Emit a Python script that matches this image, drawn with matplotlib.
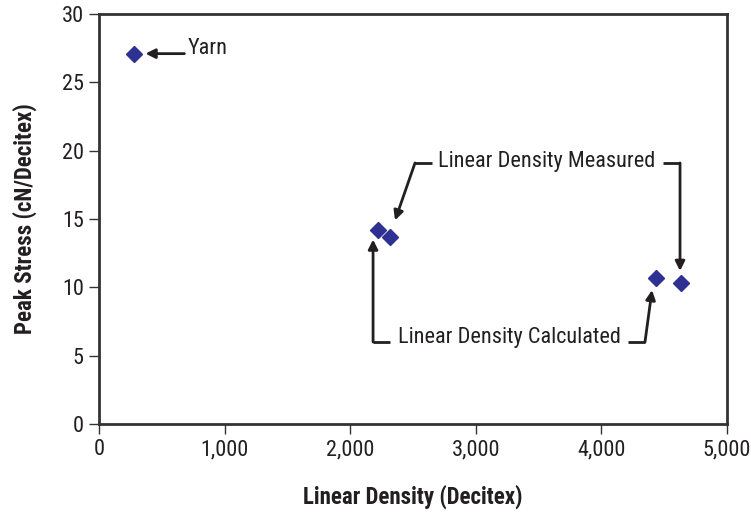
import matplotlib.pyplot as plt
from matplotlib.ticker import FuncFormatter

# Data
linear_density = [280, 2225, 2315, 4435, 4630]
peak_stress = [27.1, 14.2, 13.7, 10.7, 10.3]

x_ticks = [0, 1000, 2000, 3000, 4000, 5000]
y_ticks = [0, 5, 10, 15, 20, 25, 30]

plt.rcParams['font.family'] = ['Roboto Condensed', 'DejaVu Sans']
plt.rcParams['font.size'] = 16

navy = '#2e3192'
ink = '#231f20'

fig = plt.figure(figsize=(7.51, 5.14), dpi=100)
ax = fig.add_axes([99 / 751, 1 - 424 / 514, 628 / 751, 410 / 514])

ax.plot(linear_density, peak_stress, linestyle='none', marker='D', markersize=8.5,
        color=navy, markeredgecolor=navy, zorder=3)

ax.set_xlim(0, 5000)
ax.set_ylim(0, 30)
ax.set_xticks(x_ticks)
ax.set_yticks(y_ticks)
ax.xaxis.set_major_formatter(FuncFormatter(lambda v, p: f'{int(v):,}'))

for s in ax.spines.values():
    s.set_linewidth(2)
    s.set_color('#333333')
ax.tick_params(direction='out', length=7, width=1, color='#333333', labelcolor=ink,
               labelsize=16, pad=4)

ax.set_xlabel('Linear Density (Decitex)', fontweight='bold', fontsize=16.5, color=ink)
ax.set_ylabel('Peak Stress (cN/Decitex)', fontweight='bold', fontsize=16.5, color=ink)
ax.xaxis.set_label_coords(0.5, -0.148)
ax.yaxis.set_label_coords(-0.099, 0.5)

arrow = dict(arrowstyle='-|>', color=ink, lw=2, mutation_scale=14, shrinkA=0, shrinkB=0)
line_kw = dict(color=ink, lw=2, solid_capstyle='butt')

# Yarn label
ax.annotate('', xy=(linear_density[0] + 90, peak_stress[0]), xytext=(680, 27.1), arrowprops=arrow)
ax.text(709, 27.5, 'Yarn', ha='left', va='center', fontsize=16, color=ink)

# Linear Density Measured
ax.text(2699, 19.2, 'Linear Density Measured', ha='left', va='center', fontsize=16, color=ink)
ax.plot([2651, 2516], [19.1, 19.1], **line_kw)
ax.annotate('', xy=(2357, 14.9), xytext=(2516, 19.1), arrowprops=arrow)
ax.plot([4490, 4626], [19.1, 19.1], **line_kw)
ax.annotate('', xy=(4626, 11.2), xytext=(4626, 19.1), arrowprops=arrow)

# Linear Density Calculated
ax.text(2381, 6.35, 'Linear Density Calculated', ha='left', va='center', fontsize=16, color=ink)
ax.plot([2317, 2182], [6.0, 6.0], **line_kw)
ax.annotate('', xy=(2182, 13.5), xytext=(2182, 6.0), arrowprops=arrow)
ax.plot([4212, 4347], [6.0, 6.0], **line_kw)
ax.annotate('', xy=(4403, 9.8), xytext=(4347, 6.0), arrowprops=arrow)

fig.savefig('out.png', dpi=100)
